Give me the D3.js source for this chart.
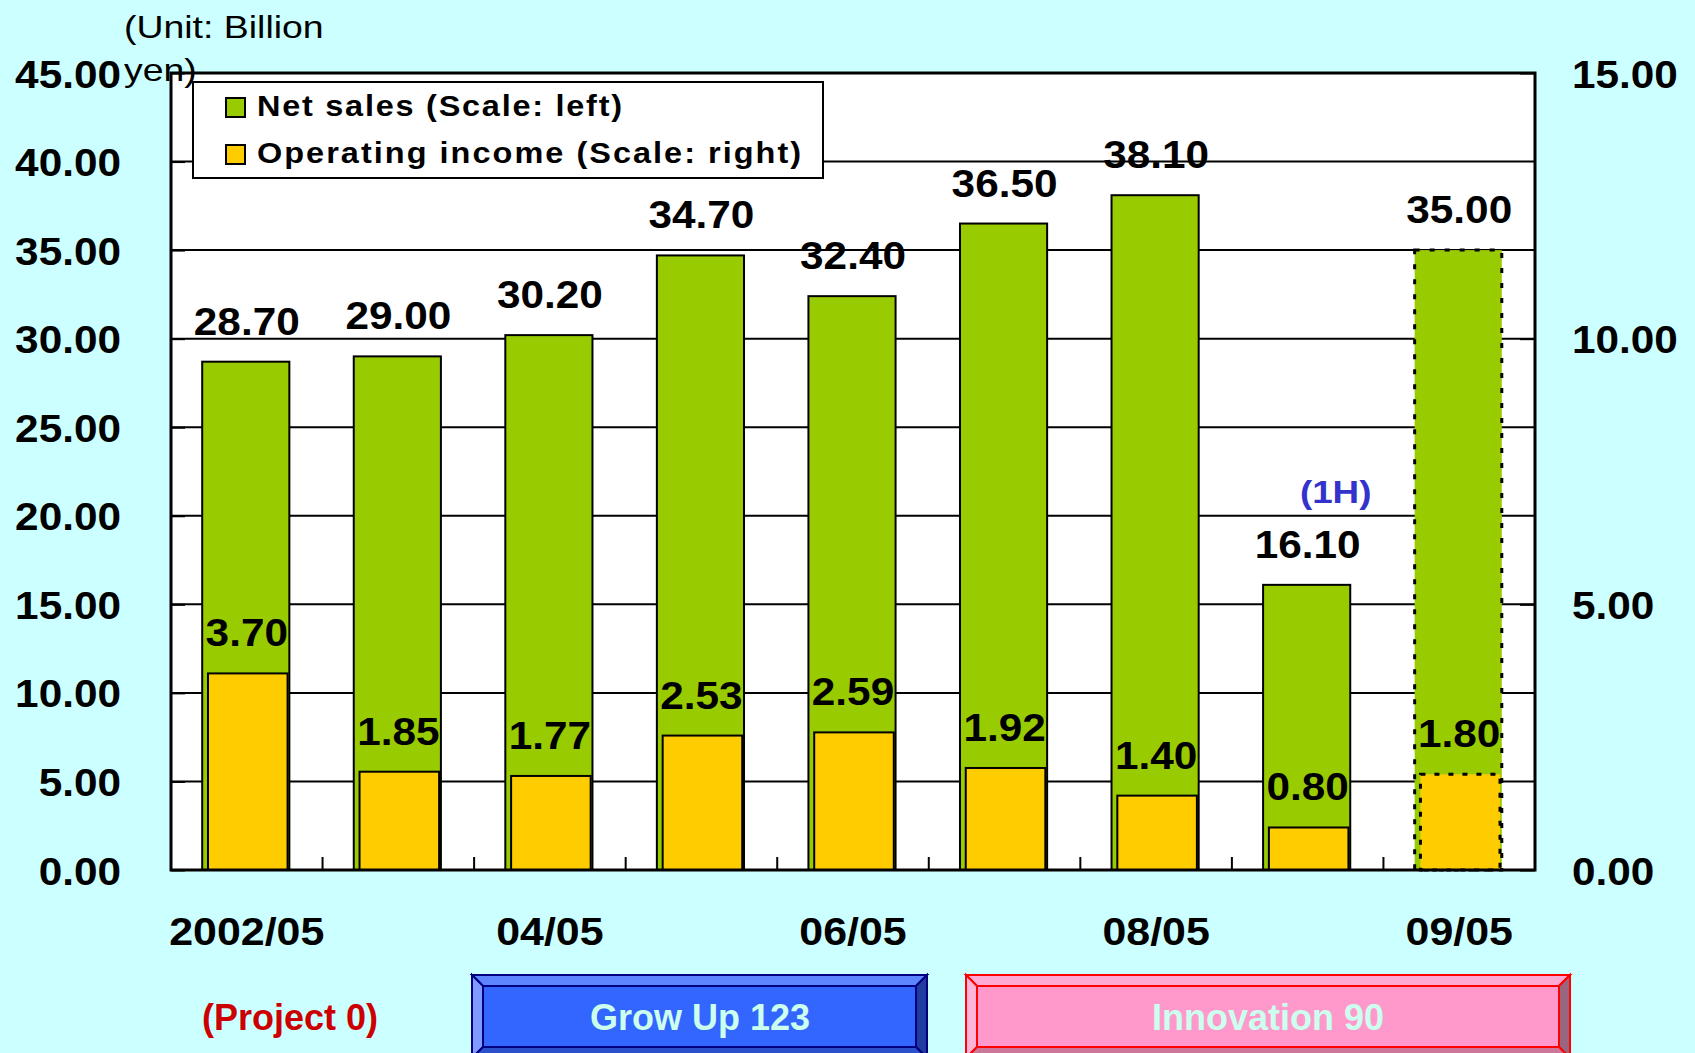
<!DOCTYPE html>
<html>
<head>
<meta charset="utf-8">
<script src="https://cdn.jsdelivr.net/npm/d3@7"></script>
<style>
  html, body { margin: 0; padding: 0; background: #CCFFFF; }
  svg { display: block; }
  text { font-family: "Liberation Sans", Arial, Helvetica, sans-serif; }
</style>
</head>
<body>
<svg id="chart" width="1695" height="1053" font-family="Liberation Sans, Arial, Helvetica, sans-serif"></svg>
<script>
// ---------------- data ----------------
const categories = ["2002/05", "03/05", "04/05", "05/05", "06/05", "07/05", "08/05", "09/05 1H", "09/05"];
const netSales   = [28.70, 29.00, 30.20, 34.70, 32.40, 36.50, 38.10, 16.10, 35.00];
const opIncome   = [3.70, 1.85, 1.77, 2.53, 2.59, 1.92, 1.40, 0.80, 1.80];
const isForecast = [false, false, false, false, false, false, false, false, true];
const xTickLabels = ["2002/05", "", "04/05", "", "06/05", "", "08/05", "", "09/05"];
const leftTicks  = [0, 5, 10, 15, 20, 25, 30, 35, 40, 45];
const rightTicks = [0, 5, 10, 15];
const legendLabels = ["Net sales (Scale: left)", "Operating income (Scale: right)"];
const unitLines = ["(Unit: Billion", "yen)"];
const halfYearNote = "(1H)";
const programLabels = ["(Project 0)", "Grow Up 123", "Innovation 90"];

// ---------------- layout ----------------
const W = 1695, H = 1053;
const plot = { left: 171, right: 1535, top: 73, bottom: 870 };
const GREEN = "#99CC00", YELLOW = "#FFCC00";
const NUM_SX = 1.085;   // horizontal stretch of the number glyphs

const svg = d3.select("#chart");
svg.append("rect").attr("width", W).attr("height", H).attr("fill", "#CCFFFF");

const x = d3.scaleBand().domain(categories).range([plot.left, plot.right]).padding(0);
const yL = d3.scaleLinear().domain([0, 45]).range([plot.bottom, plot.top]);
const yR = d3.scaleLinear().domain([0, 15]).range([plot.bottom, plot.top]);
const fmt = d3.format(".2f");
const bw = x.bandwidth();
const greenW = bw * 0.575, yellowW = bw * 0.525;

// stretched text helper
function sText(parent, tx, ty, sx, str, opts) {
  const t = parent.append("text")
    .attr("transform", `translate(${tx},${ty}) scale(${sx},1)`)
    .attr("x", 0).attr("y", 0)
    .attr("text-anchor", opts.anchor || "start")
    .attr("font-size", opts.size)
    .attr("font-weight", opts.weight || "bold")
    .attr("fill", opts.fill || "#000")
    .text(str);
  if (opts.ls) t.attr("letter-spacing", opts.ls);
  return t;
}

// plot background
svg.append("rect")
  .attr("x", plot.left).attr("y", plot.top)
  .attr("width", plot.right - plot.left).attr("height", plot.bottom - plot.top)
  .attr("fill", "#FFFFFF");

// gridlines
svg.append("g").selectAll("line")
  .data(leftTicks.filter(t => t > 0 && t < 45))
  .join("line")
  .attr("x1", plot.left).attr("x2", plot.right)
  .attr("y1", d => yL(d)).attr("y2", d => yL(d))
  .attr("stroke", "#000").attr("stroke-width", 2);

// left axis (inward ticks)
const leftAxis = d3.axisLeft(yL).tickValues(leftTicks).tickFormat(fmt).tickSize(-14).tickPadding(50);
const gL = svg.append("g").attr("transform", `translate(${plot.left},0)`).call(leftAxis);
gL.select(".domain").remove();
gL.selectAll(".tick line").attr("stroke", "#000").attr("stroke-width", 2);
gL.selectAll(".tick text")
  .attr("font-size", 39).attr("font-weight", "bold").attr("fill", "#000")
  .attr("dy", "0.36em").attr("x", -50 / NUM_SX)
  .attr("transform", `scale(${NUM_SX},1)`);

// right axis (inward ticks)
const rightAxis = d3.axisRight(yR).tickValues(rightTicks).tickFormat(fmt).tickSize(-15).tickPadding(37);
const gR = svg.append("g").attr("transform", `translate(${plot.right},0)`).call(rightAxis);
gR.select(".domain").remove();
gR.selectAll(".tick line").attr("stroke", "#000").attr("stroke-width", 2);
gR.selectAll(".tick text")
  .attr("font-size", 39).attr("font-weight", "bold").attr("fill", "#000")
  .attr("dy", "0.36em").attr("x", 37 / NUM_SX)
  .attr("transform", `scale(${NUM_SX},1)`);
svg.selectAll(".tick text").attr("font-family", "Liberation Sans, Arial, Helvetica, sans-serif");

// x-axis: category-boundary ticks (inward) and labels
const boundaries = categories.slice(1);
svg.append("g").selectAll("line")
  .data(boundaries)
  .join("line")
  .attr("x1", d => x(d)).attr("x2", d => x(d))
  .attr("y1", plot.bottom).attr("y2", plot.bottom - 13)
  .attr("stroke", "#000").attr("stroke-width", 2);

const gX = svg.append("g");
categories.forEach((c, i) => {
  if (xTickLabels[i]) sText(gX, x(c) + bw / 2, 945, 1.1, xTickLabels[i], { size: 39, anchor: "middle" });
});

// green bars (net sales)
const rows = categories.map((c, i) => ({ c, s: netSales[i], o: opIncome[i], f: isForecast[i] }));

svg.append("g").selectAll("rect")
  .data(rows)
  .join("rect")
  .attr("x", d => x(d.c) + (bw - greenW) / 2 - 1)
  .attr("y", d => yL(d.s))
  .attr("width", greenW)
  .attr("height", d => yL(0) - yL(d.s))
  .attr("fill", GREEN)
  .attr("stroke", "#000")
  .attr("stroke-width", d => d.f ? 3 : 2)
  .attr("stroke-dasharray", d => d.f ? "5,10" : null);

// yellow bars (operating income)
svg.append("g").selectAll("rect")
  .data(rows)
  .join("rect")
  .attr("x", d => x(d.c) + (bw - yellowW) / 2 + 1)
  .attr("y", d => yR(d.o))
  .attr("width", yellowW)
  .attr("height", d => yR(0) - yR(d.o))
  .attr("fill", YELLOW)
  .attr("stroke", "#000")
  .attr("stroke-width", d => d.f ? 3 : 2)
  .attr("stroke-dasharray", d => d.f ? "5,9" : null);

// plot frame
svg.append("rect")
  .attr("x", plot.left).attr("y", plot.top)
  .attr("width", plot.right - plot.left).attr("height", plot.bottom - plot.top)
  .attr("fill", "none").attr("stroke", "#000").attr("stroke-width", 3);

// value labels
const gV = svg.append("g");
rows.forEach(d => {
  sText(gV, x(d.c) + bw / 2, yL(d.s) - 27, NUM_SX, fmt(d.s), { size: 39, anchor: "middle" });
  sText(gV, x(d.c) + bw / 2, yR(d.o) - 27, NUM_SX, fmt(d.o), { size: 39, anchor: "middle" });
});

// (1H) note above the half-year bar
sText(svg, x(categories[7]) + bw / 2 + 28, 503, 1.15, halfYearNote, { size: 32, anchor: "middle", fill: "#3333CC" });

// unit label
sText(svg, 124, 38, 1.17, unitLines[0], { size: 32, weight: "normal" });
sText(svg, 124, 81, 1.17, unitLines[1], { size: 32, weight: "normal" });

// legend
const lg = svg.append("g");
lg.append("rect").attr("x", 193).attr("y", 82).attr("width", 630).attr("height", 96)
  .attr("fill", "#FFF").attr("stroke", "#000").attr("stroke-width", 2);
const legendColors = [GREEN, YELLOW];
legendLabels.forEach((lab, i) => {
  const yy = 98 + i * 47;
  lg.append("rect").attr("x", 226).attr("y", yy).attr("width", 19).attr("height", 19)
    .attr("fill", legendColors[i]).attr("stroke", "#000").attr("stroke-width", 2);
  sText(lg, 257, yy + 18, 1.1, lab, { size: 29.5, ls: i === 0 ? 1.6 : 1.85 });
});

// program labels
svg.append("text").attr("x", 290).attr("y", 1030).attr("text-anchor", "middle")
  .attr("font-size", 36).attr("font-weight", "bold").attr("fill", "#CC0000")
  .text(programLabels[0]);

function bevelBox(x0, y0, x1, y1, b, c) {
  const g = svg.append("g");
  const xi0 = x0 + b, yi0 = y0 + b, xi1 = x1 - b, yi1 = y1 - b;
  const poly = (pts, fill) => g.append("polygon")
    .attr("points", pts.map(p => p.join(",")).join(" "))
    .attr("fill", fill).attr("stroke", c.border).attr("stroke-width", 2).attr("stroke-linejoin", "miter");
  poly([[x0, y0], [x1, y0], [xi1, yi0], [xi0, yi0]], c.top);
  poly([[x0, y0], [xi0, yi0], [xi0, yi1], [x0, y1]], c.left);
  poly([[x1, y0], [x1, y1], [xi1, yi1], [xi1, yi0]], c.right);
  poly([[x0, y1], [xi0, yi1], [xi1, yi1], [x1, y1]], c.bottom);
  poly([[xi0, yi0], [xi1, yi0], [xi1, yi1], [xi0, yi1]], c.face);
  return g;
}

bevelBox(472, 975, 927, 1058, 11,
  { face: "#3366FF", top: "#5C85FF", left: "#7F9BFF", right: "#1F3C9E", bottom: "#2A50CC", border: "#000080" });
svg.append("text").attr("x", 700).attr("y", 1030).attr("text-anchor", "middle")
  .attr("font-size", 36).attr("font-weight", "bold").attr("fill", "#CCFFEE")
  .text(programLabels[1]);

bevelBox(966, 975, 1570, 1058, 11,
  { face: "#FF99CC", top: "#FFAAD5", left: "#FFB3D9", right: "#996680", bottom: "#CC7799", border: "#FF0000" });
svg.append("text").attr("x", 1268).attr("y", 1030).attr("text-anchor", "middle")
  .attr("font-size", 36).attr("font-weight", "bold").attr("fill", "#CCFFEE")
  .text(programLabels[2]);
</script>
</body>
</html>
